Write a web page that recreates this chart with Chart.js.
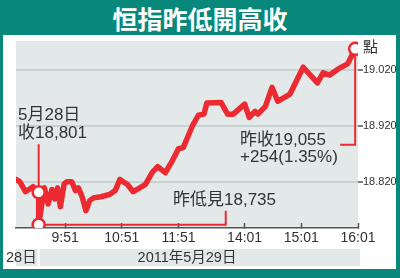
<!DOCTYPE html>
<html>
<head>
<meta charset="utf-8">
<script src="https://cdn.jsdelivr.net/npm/chart.js@4"></script>
<style>
  html, body { margin: 0; padding: 0; }
  body { width: 400px; height: 278px; background: #07887b; position: relative; overflow: hidden; }
  #title {
    position: absolute; left: 0; top: 0; width: 400px; height: 35px;
    line-height: 35px; text-align: center; color: #fff;
    font: 700 25px "Noto Sans CJK TC", sans-serif;
  }
  #panel { position: absolute; left: 3px; top: 35px; width: 393px; height: 234px; background: #fff; }
  #chart { position: absolute; left: 0; top: 0; }
</style>
</head>
<body>
<div id="title">恒指昨低開高收</div>
<div id="panel"></div>
<canvas id="chart" width="400" height="278"></canvas>
<script>
// Hang Seng index, minutes from the 9:30 open (lunch compressed), 28th close on the left
const xMinutes = [-31, -27, -21, -13, -7, -7, -1, 3, 7, 10, 13, 16, 20, 23, 28, 32, 35, 39, 43, 47,
    51, 59, 68, 74, 79, 87, 93, 100, 106, 113, 119, 127, 134, 141, 146, 151, 156, 162, 168, 171,
    186, 193, 199, 211, 216, 222, 225, 233, 240, 246, 259, 273, 288, 294, 301, 310, 320, 328];
const hsiValues = [18824, 18820, 18802, 18811, 18801, 18743, 18809, 18780, 18806, 18789, 18809, 18775,
    18816, 18820, 18820, 18804, 18809, 18793, 18768, 18786, 18791, 18793, 18797, 18804, 18824, 18815,
    18802, 18809, 18815, 18836, 18847, 18836, 18856, 18879, 18881, 18901, 18921, 18939, 18941, 18961,
    18962, 18941, 18941, 18959, 18935, 18946, 18941, 18955, 18989, 18964, 18977, 19025, 18997, 19015,
    19011, 19022, 19031, 19058];

const tickMinutes = [21, 81, 141, 211, 271, 331];
const tickLabels = ['9:51', '10:51', '11:51', '14:01', '15:01', '16:01'];
const yTicks = [18820, 18920, 19020];
const dayBreak = -7;
const dayLabels = ['28日', '2011年5月29日'];

// highlighted points: 28th close, today's low, today's close
const PREV_CLOSE = 4, LOW = 5, CLOSE = 57;
const lowLabelMinute = 191;

const RED = '#ec2a32';
const TEXT = '#333';
const PLOT_BG = '#e3e9e9';
const FONT = '"Liberation Sans", "Noto Sans CJK TC", sans-serif';

const decor = {
    id: 'decor',
    beforeDraw(chart) {
        const { ctx, chartArea: a, scales: { x } } = chart;
        ctx.save();
        ctx.fillStyle = PLOT_BG;
        ctx.fillRect(a.left, a.top, a.right - a.left, a.bottom - a.top);

        // date band under the axis
        ctx.fillRect(a.left, 249, a.right + 2 - a.left, 17);
        const split = x.getPixelForValue(dayBreak);
        ctx.fillStyle = '#fff';
        ctx.fillRect(split - 1, 249, 2, 17);
        ctx.fillStyle = TEXT;
        ctx.font = '14.5px ' + FONT;
        ctx.textBaseline = 'middle';
        ctx.fillText(dayLabels[0], 6, 258);
        ctx.textAlign = 'center';
        ctx.fillText(dayLabels[1], (a.left + a.right) / 2, 258);

        // unit label above the axis
        ctx.textAlign = 'left';
        ctx.font = '15px ' + FONT;
        ctx.fillText('點', a.right + 5, 48);
        ctx.restore();
    },
    beforeDatasetsDraw(chart) {
        const { ctx, scales: { x, y } } = chart;
        const px = i => x.getPixelForValue(xMinutes[i]);
        const py = i => y.getPixelForValue(hsiValues[i]);
        ctx.save();
        ctx.strokeStyle = RED;
        ctx.lineWidth = 2;
        ctx.beginPath();
        // 28th close
        ctx.moveTo(px(PREV_CLOSE), py(PREV_CLOSE));
        ctx.lineTo(px(PREV_CLOSE), py(PREV_CLOSE) - 48);
        // low
        const lx = x.getPixelForValue(lowLabelMinute);
        ctx.moveTo(px(LOW), py(LOW));
        ctx.lineTo(lx, py(LOW));
        ctx.lineTo(lx, py(LOW) - 14);
        // close
        ctx.moveTo(px(CLOSE), py(CLOSE));
        ctx.lineTo(px(CLOSE), py(CLOSE) + 96);
        ctx.lineTo(px(CLOSE) - 15, py(CLOSE) + 96);
        ctx.stroke();
        ctx.restore();
    },
    afterDatasetsDraw(chart) {
        const { ctx, scales: { y } } = chart;
        const py = i => y.getPixelForValue(hsiValues[i]);
        ctx.save();
        ctx.fillStyle = TEXT;
        ctx.font = '17px ' + FONT;
        ctx.textBaseline = 'middle';
        ctx.fillText('5月28日', 18, py(PREV_CLOSE) - 77);
        ctx.fillText('收18,801', 18, py(PREV_CLOSE) - 59);
        ctx.fillText('昨低見18,735', 173, py(LOW) - 24);
        ctx.fillText('昨收19,055', 240, py(CLOSE) + 91);
        ctx.fillText('+254(1.35%)', 240, py(CLOSE) + 108);
        ctx.restore();
    }
};

const markers = [PREV_CLOSE, LOW, CLOSE];

new Chart(document.getElementById('chart').getContext('2d'), {
    type: 'line',
    data: {
        datasets: [{
            data: xMinutes.map((m, i) => ({ x: m, y: hsiValues[i] })),
            borderColor: RED,
            borderWidth: 5.5,
            borderJoinStyle: 'round',
            borderCapStyle: 'round',
            tension: 0,
            pointRadius: ctx => markers.includes(ctx.dataIndex) ? 6 : 0,
            pointBackgroundColor: '#fff',
            pointBorderColor: RED,
            pointBorderWidth: 2.5
        }]
    },
    options: {
        responsive: false,
        animation: false,
        devicePixelRatio: 1,
        layout: { padding: { left: 16, top: 41, right: 0, bottom: 0 } },
        plugins: { legend: { display: false }, tooltip: { enabled: false } },
        scales: {
            x: {
                type: 'linear',
                min: -31,
                max: 331,
                afterFit: s => { s.height = 50; },
                afterBuildTicks: s => { s.ticks = tickMinutes.map(v => ({ value: v })); },
                ticks: {
                    padding: 7,
                    color: TEXT,
                    font: { family: FONT, size: 14 },
                    maxRotation: 0,
                    autoSkip: false,
                    callback: v => tickLabels[tickMinutes.indexOf(v)]
                },
                grid: {
                    drawOnChartArea: false,
                    tickLength: -5,
                    tickColor: '#555',
                    tickWidth: 1.5
                },
                border: { color: '#555', width: 1.5 }
            },
            y: {
                position: 'right',
                min: 18737,
                max: 19072,
                afterFit: s => { s.width = 42; },
                afterBuildTicks: s => { s.ticks = yTicks.map(v => ({ value: v })); },
                ticks: {
                    padding: 0,
                    color: TEXT,
                    font: { family: FONT, size: 11 },
                    callback: v => (v / 1000).toFixed(3)
                },
                grid: {
                    color: '#c9d2d2',
                    lineWidth: 2,
                    tickLength: 5,
                    tickColor: '#555',
                    tickWidth: 1.5
                },
                border: { display: false }
            }
        }
    },
    plugins: [decor]
});
</script>
</body>
</html>
